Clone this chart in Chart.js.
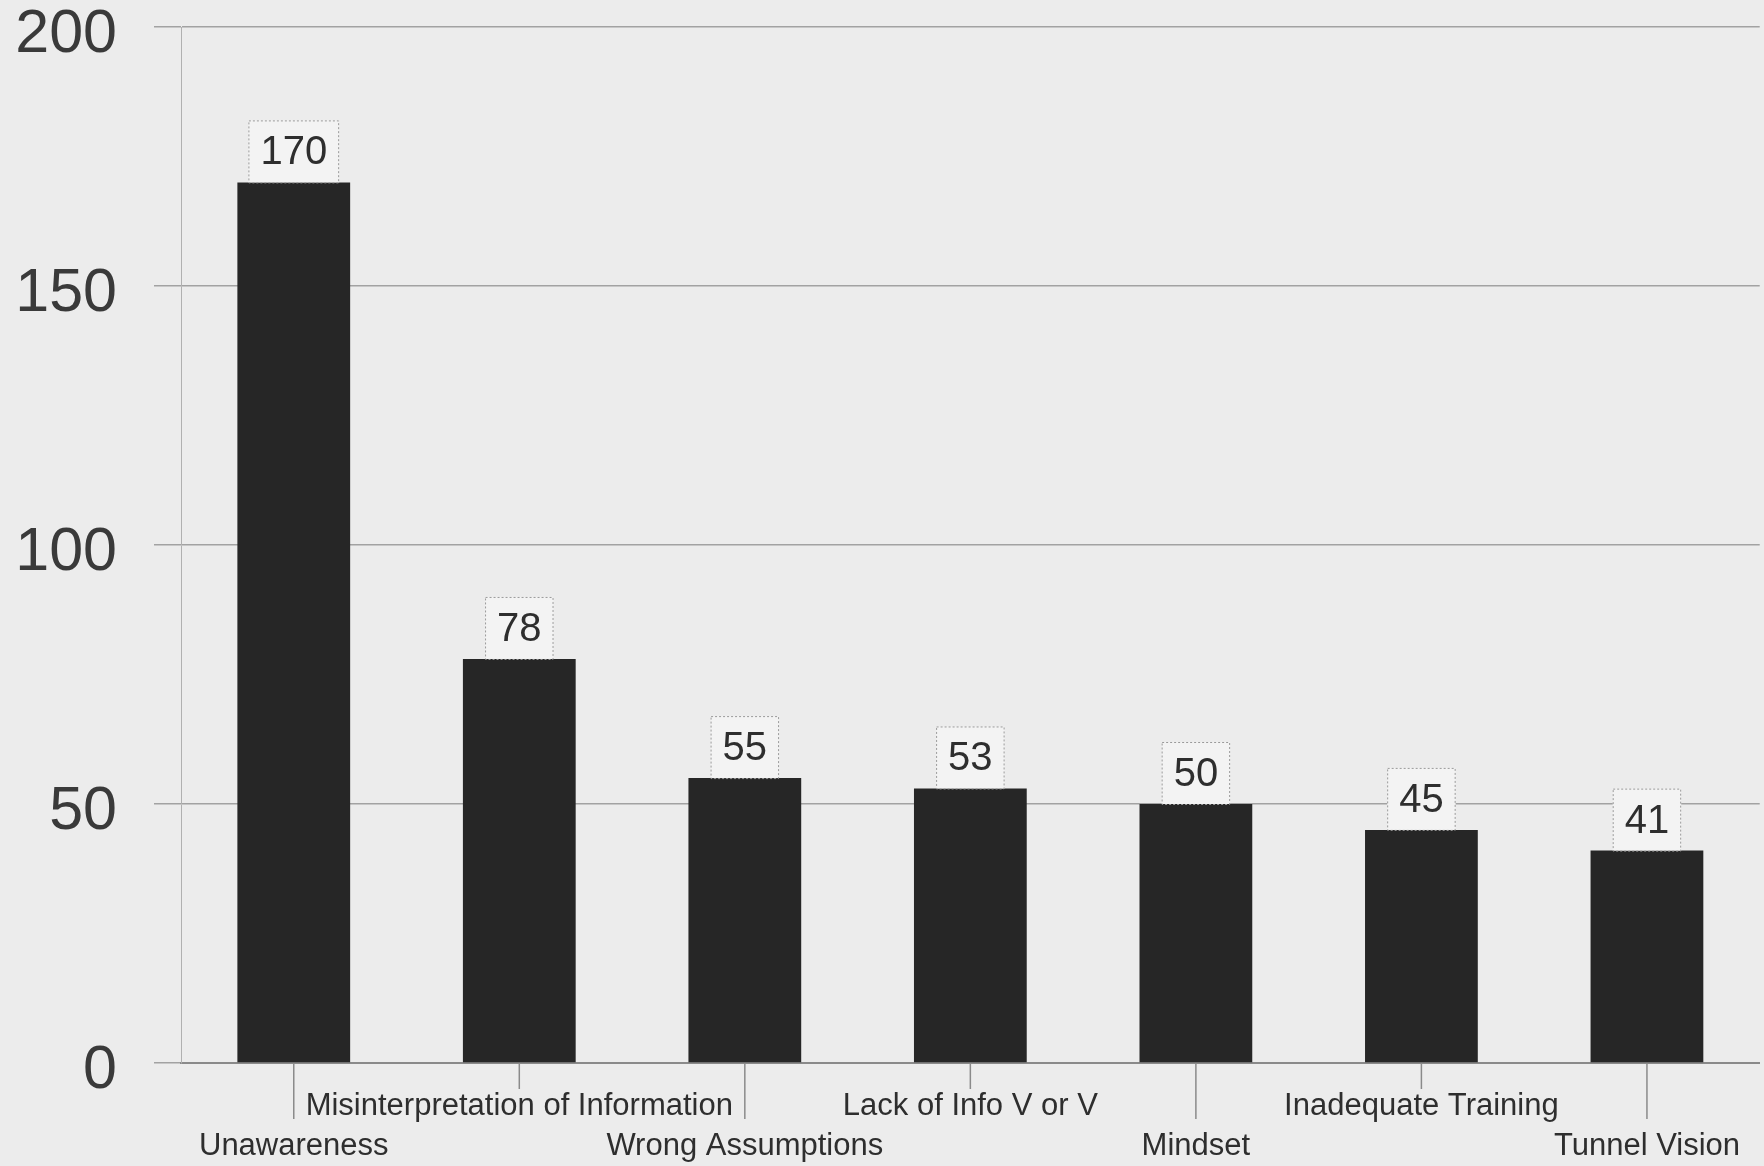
<!DOCTYPE html>
<html>
<head>
<meta charset="utf-8">
<script src="https://cdn.jsdelivr.net/npm/chart.js@4.4.1/dist/chart.umd.min.js"></script>
<style>
  html, body { margin: 0; padding: 0; background: #ececec; }
  #wrap { width: 1764px; height: 1166px; position: relative; }
</style>
</head>
<body>
<div id="wrap"><canvas id="chart"></canvas></div>
<script>
const categories = [
  'Unawareness',
  'Misinterpretation of Information',
  'Wrong Assumptions',
  'Lack of Info V or V',
  'Mindset',
  'Inadequate Training',
  'Tunnel Vision'
];
const counts = [170, 78, 55, 53, 50, 45, 41];
const yTicks = [0, 50, 100, 150, 200];

// background of the scanned page
const paper = {
  id: 'paper',
  beforeDraw(chart) {
    const ctx = chart.ctx;
    ctx.save();
    ctx.fillStyle = '#ececec';
    ctx.fillRect(0, 0, chart.width, chart.height);
    ctx.restore();
  }
};

// staggered tick marks under the x axis
const staggerTicks = {
  id: 'staggerTicks',
  afterDraw(chart) {
    const x = chart.scales.x;
    const ctx = chart.ctx;
    ctx.save();
    ctx.strokeStyle = '#8a8a8a';
    ctx.lineWidth = 1.5;
    categories.forEach((c, i) => {
      const px = x.getPixelForTick(i);
      const len = i % 2 === 0 ? 56 : 26;
      ctx.beginPath();
      ctx.moveTo(px, x.top);
      ctx.lineTo(px, x.top + len);
      ctx.stroke();
    });
    ctx.restore();
  }
};

// boxed value labels over the bars
const valueBoxes = {
  id: 'valueBoxes',
  afterDatasetsDraw(chart) {
    const ctx = chart.ctx;
    const meta = chart.getDatasetMeta(0);
    ctx.save();
    ctx.font = '40px "Liberation Sans", Arial, sans-serif';
    ctx.textAlign = 'center';
    ctx.textBaseline = 'middle';
    meta.data.forEach((bar, i) => {
      const txt = String(counts[i]);
      const w = ctx.measureText(txt).width + 24;
      const h = 62;
      const left = bar.x - w / 2;
      const top = bar.y - h;
      ctx.fillStyle = '#f3f3f3';
      ctx.fillRect(left, top, w, h);
      ctx.setLineDash([2, 2]);
      ctx.strokeStyle = '#9a9a9a';
      ctx.lineWidth = 1;
      ctx.strokeRect(left + 0.5, top + 0.5, w - 1, h);
      ctx.setLineDash([]);
      ctx.fillStyle = '#2e2e2e';
      ctx.fillText(txt, bar.x, top + h / 2 + 2);
    });
    ctx.restore();
  }
};

new Chart(document.getElementById('chart'), {
  type: 'bar',
  data: {
    labels: categories,
    datasets: [{
      data: counts,
      backgroundColor: '#262626',
      borderWidth: 0,
      barPercentage: 0.5,
      categoryPercentage: 1.0
    }]
  },
  options: {
    responsive: true,
    maintainAspectRatio: false,
    animation: false,
    layout: { padding: { top: 27, right: 0, left: 0, bottom: 0 } },
    plugins: {
      legend: { display: false },
      tooltip: { enabled: false },
      title: { display: false }
    },
    scales: {
      x: {
        grid: { display: false, drawTicks: false },
        border: { display: true, color: '#8a8a8a', width: 2 },
        afterFit(s) { s.height = 103; },
        ticks: {
          padding: 24,
          color: '#2e2e2e',
          maxRotation: 0,
          autoSkip: false,
          font: { family: '"Liberation Sans", Arial, sans-serif', size: 31, lineHeight: 1.27 },
          callback(v, i) {
            return i % 2 === 0 ? ['', categories[i]] : [categories[i]];
          }
        }
      },
      y: {
        min: 0,
        max: 200,
        afterBuildTicks(s) { s.ticks = yTicks.map(v => ({ value: v })); },
        afterFit(s) { s.width = 181; s.paddingTop = 0; s.paddingBottom = 0; },
        grid: { color: '#a2a2a2', lineWidth: 1.5, drawTicks: true, tickLength: 27 },
        border: { display: true, color: '#b0b0b0', width: 1 },
        ticks: {
          padding: 37,
          labelOffset: 8,
          color: '#3a3a3a',
          font: { family: '"Liberation Sans", Arial, sans-serif', size: 61, lineHeight: 0.7 }
        }
      }
    }
  },
  plugins: [paper, staggerTicks, valueBoxes]
});
</script>
</body>
</html>
